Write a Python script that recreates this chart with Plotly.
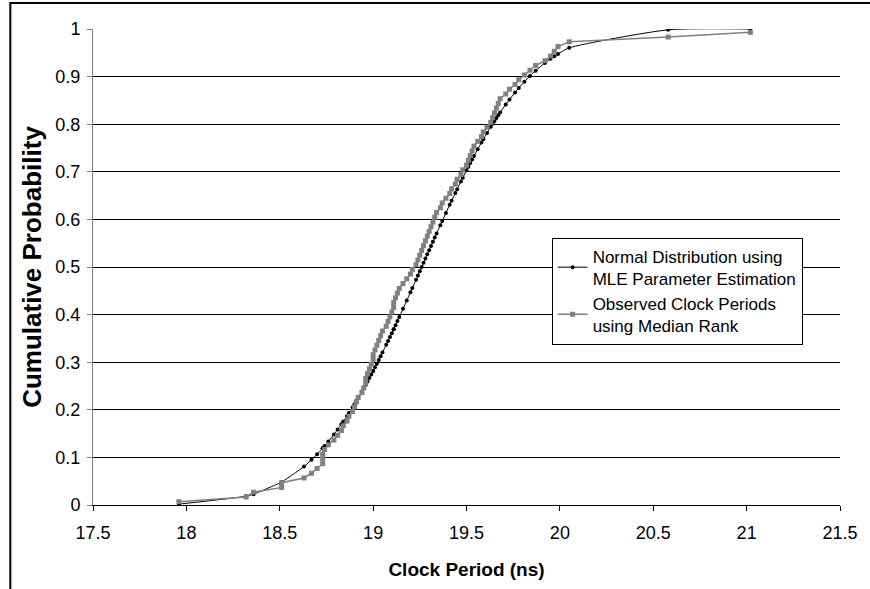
import plotly.graph_objects as go

# Observed clock periods (ns), sorted
period_ns = [17.96, 18.32, 18.36, 18.51, 18.51, 18.63, 18.67, 18.70, 18.73, 18.73,
             18.73, 18.74, 18.76, 18.79, 18.81, 18.83, 18.84, 18.86, 18.87, 18.89,
             18.90, 18.91, 18.92, 18.94, 18.95, 18.96, 18.96, 18.97, 18.98, 18.99,
             19.00, 19.00, 19.01, 19.02, 19.03, 19.04, 19.05, 19.07, 19.08, 19.09,
             19.10, 19.11, 19.11, 19.12, 19.13, 19.14, 19.16, 19.18, 19.20, 19.21,
             19.23, 19.24, 19.25, 19.26, 19.27, 19.28, 19.29, 19.30, 19.31, 19.32,
             19.33, 19.34, 19.36, 19.37, 19.39, 19.41, 19.42, 19.44, 19.45, 19.47,
             19.48, 19.50, 19.51, 19.52, 19.53, 19.54, 19.56, 19.58, 19.59, 19.61,
             19.63, 19.64, 19.65, 19.66, 19.67, 19.68, 19.71, 19.73, 19.76, 19.78,
             19.81, 19.84, 19.87, 19.92, 19.95, 19.97, 19.99, 20.05, 20.58, 21.02]

# Normal distribution (MLE) cumulative probability at each period
normal_cdf = [0.0019, 0.0184, 0.0228, 0.0478, 0.0478, 0.0808, 0.0949, 0.1067, 0.1194, 0.1194,
              0.1194, 0.1239, 0.1333, 0.1482, 0.1587, 0.1696, 0.1753, 0.1870, 0.1931, 0.2055,
              0.2119, 0.2184, 0.2249, 0.2385, 0.2455, 0.2525, 0.2525, 0.2597, 0.2670, 0.2743,
              0.2817, 0.2817, 0.2893, 0.2969, 0.3046, 0.3125, 0.3204, 0.3364, 0.3446, 0.3528,
              0.3610, 0.3694, 0.3694, 0.3778, 0.3863, 0.3949, 0.4121, 0.4294, 0.4470, 0.4558,
              0.4734, 0.4823, 0.4911, 0.5000, 0.5089, 0.5177, 0.5266, 0.5354, 0.5442, 0.5530,
              0.5618, 0.5706, 0.5879, 0.5965, 0.6137, 0.6306, 0.6390, 0.6554, 0.6636, 0.6796,
              0.6875, 0.7031, 0.7107, 0.7183, 0.7257, 0.7330, 0.7475, 0.7615, 0.7683, 0.7816,
              0.7945, 0.8008, 0.8069, 0.8130, 0.8189, 0.8247, 0.8413, 0.8518, 0.8667, 0.8761,
              0.8892, 0.9013, 0.9124, 0.9288, 0.9374, 0.9427, 0.9476, 0.9604, 0.9983, 0.99995]

# Observed median-rank cumulative probability
median_rank = [0.0070, 0.0169, 0.0269, 0.0369, 0.0468, 0.0568, 0.0667, 0.0767, 0.0867, 0.0966,
               0.1066, 0.1165, 0.1265, 0.1365, 0.1464, 0.1564, 0.1663, 0.1763, 0.1863, 0.1962,
               0.2062, 0.2161, 0.2261, 0.2361, 0.2460, 0.2560, 0.2659, 0.2759, 0.2859, 0.2958,
               0.3058, 0.3157, 0.3257, 0.3357, 0.3456, 0.3556, 0.3655, 0.3755, 0.3855, 0.3954,
               0.4054, 0.4153, 0.4253, 0.4353, 0.4452, 0.4552, 0.4651, 0.4751, 0.4851, 0.4950,
               0.5050, 0.5149, 0.5249, 0.5349, 0.5448, 0.5548, 0.5647, 0.5747, 0.5847, 0.5946,
               0.6046, 0.6145, 0.6245, 0.6345, 0.6444, 0.6544, 0.6643, 0.6743, 0.6843, 0.6942,
               0.7042, 0.7141, 0.7241, 0.7341, 0.7440, 0.7540, 0.7639, 0.7739, 0.7839, 0.7938,
               0.8038, 0.8137, 0.8237, 0.8337, 0.8436, 0.8536, 0.8635, 0.8735, 0.8835, 0.8934,
               0.9034, 0.9133, 0.9233, 0.9333, 0.9432, 0.9532, 0.9631, 0.9731, 0.9831, 0.9930]

x_ticks = [17.5, 18, 18.5, 19, 19.5, 20, 20.5, 21, 21.5]
y_ticks = [0, 0.1, 0.2, 0.3, 0.4, 0.5, 0.6, 0.7, 0.8, 0.9, 1]

FONT = "Liberation Sans, Arial, sans-serif"

fig = go.Figure()
fig.add_trace(go.Scatter(
    x=period_ns, y=normal_cdf, mode="lines+markers",
    name="Normal Distribution using<br>MLE Parameter Estimation",
    line=dict(color="black", width=1, shape="spline", smoothing=0.6),
    marker=dict(symbol="circle", size=4, color="black"),
))
fig.add_trace(go.Scatter(
    x=period_ns, y=median_rank, mode="lines+markers",
    name="Observed Clock Periods<br>using Median Rank",
    line=dict(color="#808080", width=1.5),
    marker=dict(symbol="square", size=5, color="#808080"),
))

W, H = 870, 589
L, R, T, B = 93, 852, 29, 506

fig.update_layout(
    width=W, height=H,
    margin=dict(l=L, r=W - R, t=T, b=H - B, pad=0),
    paper_bgcolor="white", plot_bgcolor="white",
    font=dict(family=FONT, size=17, color="black"),
    showlegend=True,
    legend=dict(
        x=(559 - L) / (R - L), y=1 - (238 - T) / (B - T),
        xanchor="left", yanchor="top",
        bgcolor="white", bordercolor="black", borderwidth=1,
        font=dict(family=FONT, size=17, color="black"),
        tracegroupgap=0, itemwidth=30,
    ),
    xaxis=dict(
        range=[17.5, 21.5], tickvals=x_ticks,
        ticktext=[f"{v:g}" for v in x_ticks],
        showgrid=False, zeroline=False,
        showline=True, linecolor="black", linewidth=1,
        ticks="outside", ticklen=5, tickcolor="black",
        ticklabelstandoff=6,
        tickfont=dict(family=FONT, size=18),
        title=dict(text="<b>Clock Period (ns)</b>", font=dict(family=FONT, size=19), standoff=21),
    ),
    yaxis=dict(
        range=[0, 1], tickvals=y_ticks,
        ticktext=[f"{v:g}" for v in y_ticks],
        showgrid=True, gridcolor="black", gridwidth=1,
        zeroline=False,
        showline=True, linecolor="#808080", linewidth=1,
        ticks="outside", ticklen=5, tickcolor="#808080",
        ticklabelstandoff=3,
        tickfont=dict(family=FONT, size=18),
        title=dict(text="<b>Cumulative Probability</b>", font=dict(family=FONT, size=26), standoff=6),
    ),
)

# Outer chart frame (extends past the right and bottom of the picture)
pw, ph = R - L, B - T
fig.add_shape(
    type="rect", xref="paper", yref="paper",
    x0=(9 - L) / pw, x1=(W + 20 - L) / pw,
    y0=-(H + 20 - B) / ph, y1=1 + (T - 3) / ph,
    line=dict(color="black", width=2), fillcolor="rgba(0,0,0,0)", layer="above",
)

fig.write_html("out.html")
